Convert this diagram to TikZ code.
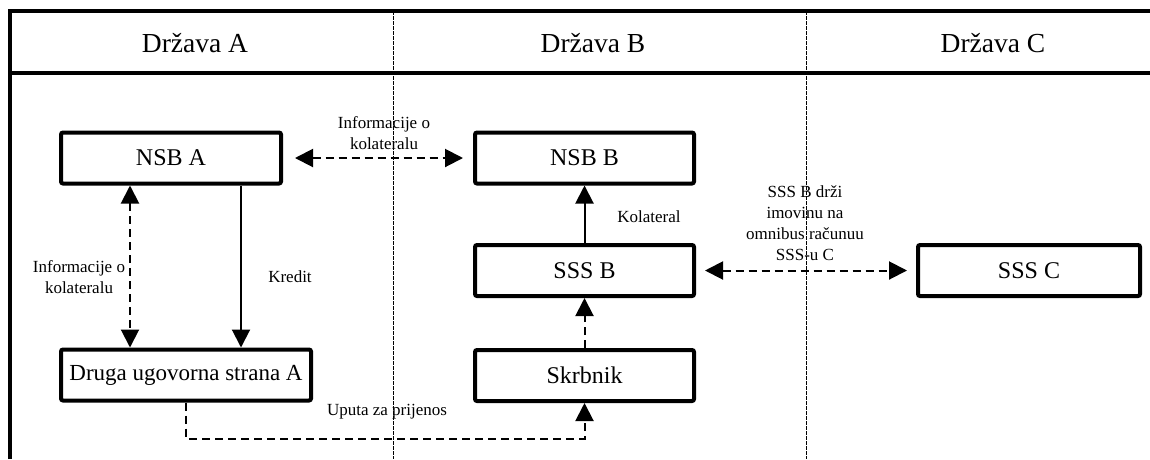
\documentclass[tikz,border=0pt]{standalone}
\usepackage{fontspec}
\setmainfont{Liberation Serif}
\usetikzlibrary{arrows.meta,positioning}

\tikzset{
    box/.style={draw,line width=4pt,rounded corners=2pt,minimum width=220pt,minimum height=51pt,inner sep=0pt,font=\fontsize{24}{28}\selectfont},
    lbl/.style={align=center,inner sep=0pt,font=\fontsize{17}{21}\selectfont},
    flow/.style={line width=2pt,-{Triangle[length=18pt,width=18pt]}},
    dflow/.style={flow,dash pattern=on 8pt off 5pt},
    both/.style={dflow,{Triangle[length=18pt,width=18pt]}-{Triangle[length=18pt,width=18pt]}},
    head/.style={font=\fontsize{27.5}{32}\selectfont}
}

\begin{document}
\begin{tikzpicture}[x=1pt,y=-1pt]
            \useasboundingbox (0,0) rectangle (1150,459);
            % frame and columns
            \draw[line width=3.5pt] (10,459)--(10,11)--(1150,11);
            \draw[line width=4pt] (10,73)--(1150,73);
            \foreach \x in {393,806}{
                \draw[line width=0.8pt,dash pattern=on 4pt off 1pt] (\x,11)--(\x,459);
            }
            \node[head] (hA) at (195,43) {Država A};
            \node[head] (hB) at (593,43) {Država B};
            \node[head] (hC) at (993,43) {Država C};

            % boxes
            \node[box] (nsbA) at (171,158) {NSB A};
            \node[box,minimum width=219pt] (nsbB) at (584.5,158) {NSB B};
            \node[box,minimum width=219pt] (sssB) at (584.5,270.5) {SSS B};
            \node[box,minimum width=219pt] (skrbnik) at (584.5,375.5) {Skrbnik};
            \node[box,minimum width=250pt,font=\fontsize{23}{28}\selectfont] (druga) at (186,375) {Druga ugovorna strana A};
            \node[box,minimum width=222pt] (sssC) at (1029,270.5) {SSS C};

            % connectors
            \draw[both] ([xshift=12pt]nsbA.east)--([xshift=-10pt]nsbB.west);
            \draw[both] ([xshift=-41pt]nsbA.south)--([xshift=-56pt]druga.north);
            \draw[flow] ([xshift=70pt]nsbA.south)--([xshift=55pt]druga.north);
            \draw[flow] (sssB.north)--(nsbB.south);
            \draw[dflow] (skrbnik.north)--(sssB.south);
            \draw[both] ([xshift=9pt]sssB.east)--([xshift=-9pt]sssC.west);
            \draw[dflow] (druga.south)--++(0,36)-|(skrbnik.south);

            % labels
            \node[lbl] (l1) at (384,133) {Informacije o\\kolateralu};
            \node[lbl] (l2) at (79,277) {Informacije o\\kolateralu};
            \node[lbl] (l3) at (290,277) {Kredit};
            \node[lbl] (l4) at (649,217) {Kolateral};
            \node[lbl] (l5) at (805,223) {SSS B drži\\imovinu na\\omnibus računuu\\SSS-u C};
            \node[lbl] (l6) at (387,412) {Uputa za prijenos};
        \end{tikzpicture}
\end{document}
